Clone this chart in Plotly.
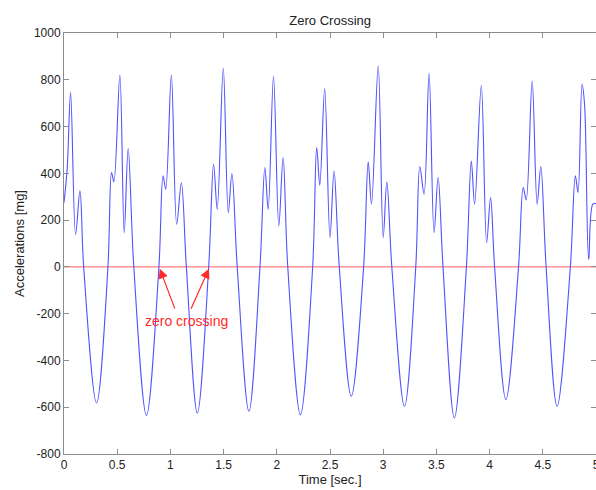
import plotly.graph_objects as go

# Accelerometer trace: key samples (time in s, acceleration in mg)
time_s = [
    0.0, 0.03, 0.062, 0.109, 0.15, 0.185, 0.306, 0.413,
    0.447, 0.469, 0.525, 0.566, 0.603, 0.656, 0.775, 0.892,
    0.931, 0.956, 1.009, 1.059, 1.103, 1.15, 1.253, 1.36,
    1.406, 1.44, 1.497, 1.544, 1.578, 1.628, 1.738, 1.842,
    1.888, 1.919, 1.969, 2.019, 2.059, 2.103, 2.222, 2.337,
    2.375, 2.404, 2.45, 2.5, 2.538, 2.587, 2.7, 2.816,
    2.859, 2.89, 2.953, 3.0, 3.034, 3.081, 3.2, 3.306,
    3.344, 3.384, 3.431, 3.478, 3.516, 3.562, 3.669, 3.782,
    3.828, 3.859, 3.922, 3.972, 4.009, 4.047, 4.153, 4.272,
    4.316, 4.344, 4.4, 4.447, 4.481, 4.531, 4.634, 4.759,
    4.806, 4.831, 4.869, 4.893, 4.931, 4.97, 5.0,
]
accel_mg = [
    275, 420, 746, 139, 325, 0, -582, 0,
    403, 363, 820, 146, 506, 0, -635, 0,
    389, 332, 820, 182, 360, 0, -625, 0,
    439, 246, 849, 232, 399, 0, -617, 0,
    425, 246, 815, 175, 468, 0, -632, 0,
    510, 349, 763, 125, 410, 0, -553, 0,
    449, 268, 860, 125, 363, 0, -596, 0,
    429, 311, 829, 146, 382, 0, -646, 0,
    453, 268, 775, 104, 296, 0, -567, 0,
    339, 286, 796, 268, 429, 0, -596, 0,
    389, 318, 782, 690, 32, 268, 270,
]

# Reference level and axis ticks
zero_time = [0, 5]
zero_level = [0, 0]
x_ticks = [0, 0.5, 1, 1.5, 2, 2.5, 3, 3.5, 4, 4.5, 5]
y_ticks = [-800, -600, -400, -200, 0, 200, 400, 600, 800, 1000]

# Arrows pointing at two zero crossings: (tail, head)
arrow_tails = [(1.047, -185), (1.188, -185)]
arrow_heads = [(0.90, -8), (1.362, -8)]
label_pos = (1.15, -232)

FONT = "Liberation Sans, Arial, sans-serif"
AXIS_GREY = "#8c8c8c"

fig = go.Figure()
fig.add_trace(go.Scatter(
    x=zero_time, y=zero_level, mode="lines",
    line=dict(color="#ff5a5a", width=1), hoverinfo="skip",
))
fig.add_trace(go.Scatter(
    x=time_s, y=accel_mg, mode="lines",
    line=dict(color="#5252ff", width=1.1, shape="spline", smoothing=1),
))

for (tx, ty), (hx, hy) in zip(arrow_tails, arrow_heads):
    fig.add_annotation(
        x=hx, y=hy, ax=tx, ay=ty, xref="x", yref="y", axref="x", ayref="y",
        text="", showarrow=True, arrowhead=2, arrowsize=1.6, arrowwidth=1.2,
        arrowcolor="#ff2a2a",
    )
fig.add_annotation(
    x=label_pos[0], y=label_pos[1], xref="x", yref="y", text="zero crossing",
    showarrow=False, font=dict(family=FONT, size=14, color="#ff2a2a"),
)

axis_common = dict(
    showgrid=False, zeroline=False, showline=True, linecolor=AXIS_GREY,
    linewidth=1, mirror="ticks", ticks="inside", ticklen=5, tickcolor=AXIS_GREY,
    tickfont=dict(family=FONT, size=12, color="#222222"),
    ticklabeloverflow="allow",
)
fig.update_xaxes(
    range=[0, 5], tickvals=x_ticks, ticktext=[f"{v:g}" for v in x_ticks],
    title=dict(text="Time [sec.]", font=dict(family=FONT, size=13, color="#222222"),
               standoff=2),
    **axis_common,
)
fig.update_yaxes(
    range=[-800, 1000], tickvals=y_ticks, ticktext=[str(v) for v in y_ticks],
    title=dict(text="Accelerations [mg]", font=dict(family=FONT, size=13, color="#222222"),
               standoff=6),
    **axis_common,
)
fig.update_layout(
    width=596, height=490,
    margin=dict(l=64, r=0, t=33, b=36, autoexpand=False),
    paper_bgcolor="white", plot_bgcolor="white",
    showlegend=False,
    title=dict(text="Zero Crossing", x=0.554, xanchor="center",
               y=1 - 20 / 490, yanchor="middle", yref="container",
               font=dict(family=FONT, size=13, color="#222222")),
)

fig.write_html("out.html")
